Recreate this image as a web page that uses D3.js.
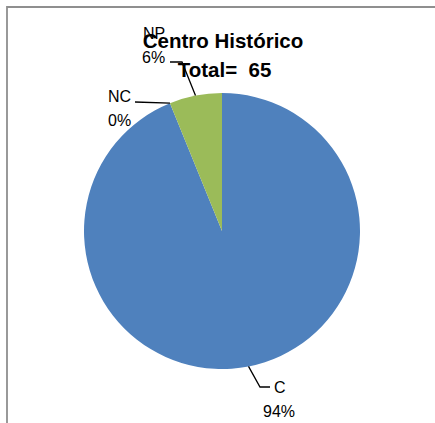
<!DOCTYPE html>
<html>
<head>
<meta charset="utf-8">
<script src="https://cdn.jsdelivr.net/npm/d3@7/dist/d3.min.js"></script>
<style>
  html, body { margin: 0; padding: 0; background: #fff; }
  svg { display: block; }
</style>
</head>
<body>
<svg id="chart" width="435" height="423"></svg>
<script>
const categories = ["C", "NC", "NP"];
const values = [61, 0, 4];
const percentLabels = ["94%", "0%", "6%"];
const colors = ["#4F81BD", "#C0504D", "#9BBB59"];
const titleLines = ["Centro Histórico", "Total=  65"];

const svg = d3.select("#chart");
const W = 435, H = 423;

// frame
svg.append("path")
  .attr("d", `M7,${H + 5} L7,7 L${W + 5},7`)
  .attr("fill", "none")
  .attr("stroke", "#8f8f8f")
  .attr("stroke-width", 1.8);

const cx = 222, cy = 231, r = 138;
const g = svg.append("g").attr("transform", `translate(${cx},${cy})`);

const pie = d3.pie().sort(null).value(d => d);
const arcs = pie(values);
const arc = d3.arc().innerRadius(0).outerRadius(r);

g.selectAll("path.slice")
  .data(arcs)
  .enter().append("path")
  .attr("class", "slice")
  .attr("d", arc)
  .attr("fill", (d, i) => colors[i]);

// label layout (leader lines)
const fontFamily = "'Liberation Sans', Arial, sans-serif";
const edge = a => [r * Math.sin(a), -r * Math.cos(a)];
const mid = d => (d.startAngle + d.endAngle) / 2;

const labelSpecs = [
  { // C
    anchorAngle: mid(arcs[0]),
    path: p => [p, [38, 156], [48, 156]],
    textX: 52, textY: 162, pctX: 41
  },
  { // NC
    anchorAngle: arcs[1].startAngle,
    path: p => [p, [-87, -129]],
    textX: -114, textY: -129, pctX: -114
  },
  { // NP
    anchorAngle: mid(arcs[2]),
    path: p => [p, [-40, -169], [-52, -169]],
    textX: -79, textY: -192, pctX: -80
  }
];

labelSpecs.forEach((s, i) => {
  const p = edge(s.anchorAngle);
  g.append("path")
    .attr("d", d3.line()(s.path(p)))
    .attr("fill", "none")
    .attr("stroke", "#000")
    .attr("stroke-width", 1.3);
});

labelSpecs.forEach((s, i) => {
  const t = g.append("text")
    .attr("font-family", fontFamily)
    .attr("font-size", 16)
    .attr("fill", "#000");
  t.append("tspan").attr("x", s.textX).attr("y", s.textY).text(categories[i]);
  t.append("tspan").attr("x", s.pctX).attr("y", s.textY + 23.5).text(percentLabels[i]);
});

// title
const title = svg.append("text")
  .attr("font-family", fontFamily)
  .attr("font-weight", "bold")
  .attr("font-size", 20.5)
  .attr("text-anchor", "middle")
  .attr("fill", "#000");
title.append("tspan").attr("x", 223).attr("y", 48).text(titleLines[0]);
title.append("tspan").attr("x", 224.5).attr("y", 77).attr("xml:space", "preserve").text(titleLines[1]);
</script>
</body>
</html>
